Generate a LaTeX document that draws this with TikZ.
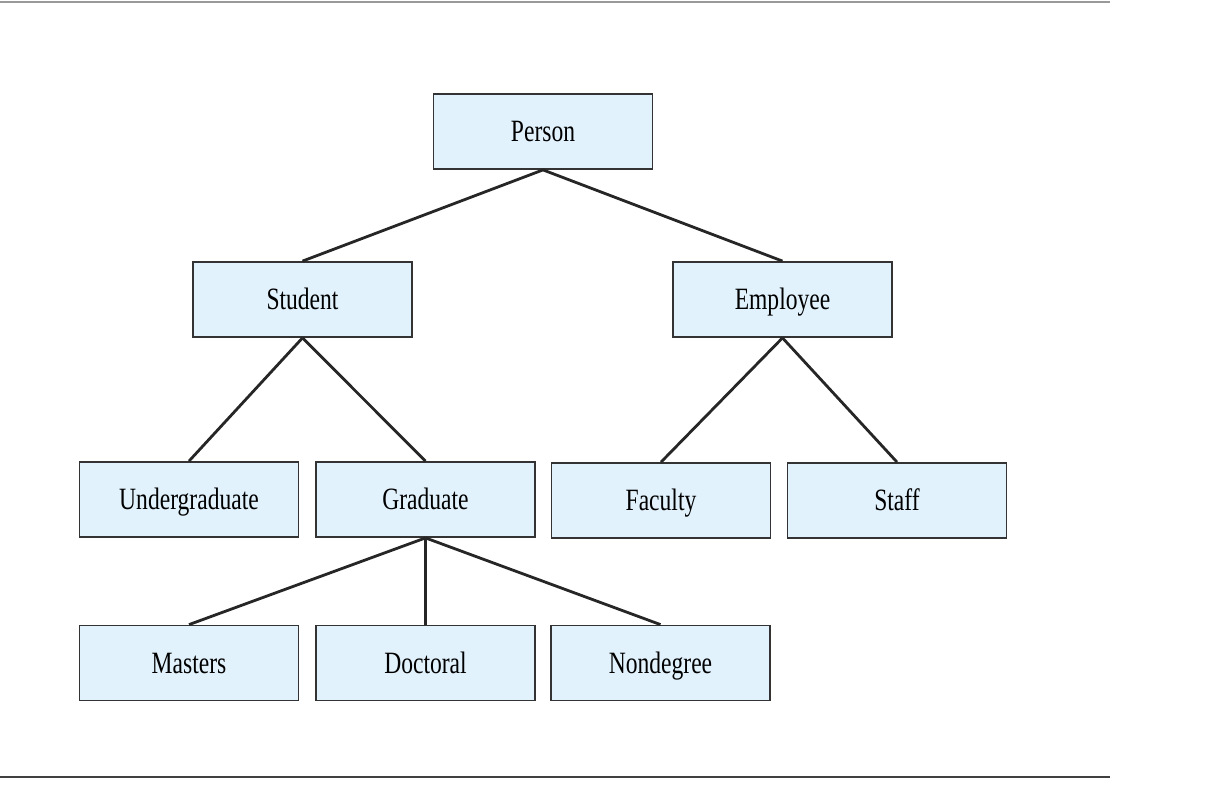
\documentclass[tikz,border=0pt]{standalone}
\usepackage{fontspec}
\setmainfont{Liberation Serif}[FakeStretch=0.76]
\definecolor{boxfill}{HTML}{E1F2FC}
\definecolor{boxline}{HTML}{333333}
\begin{document}
\begin{tikzpicture}[x=1pt,y=-1pt,
  cls/.style={draw=boxline,line width=1.8pt,fill=boxfill,minimum width=219pt,minimum height=75pt,inner sep=0pt,text height=24pt,text depth=4pt,font=\fontsize{31}{31}\selectfont},
  link/.style={draw=black!85,line width=2.8pt}]
\useasboundingbox (0,0) rectangle (1209,787);
\coordinate (tl) at (0,2);
\coordinate (tr) at (1110,2);
\coordinate (bl) at (0,777);
\coordinate (br) at (1110,777);
\draw[line width=2pt,black!40] (tl) -- (tr);
\draw[line width=2.5pt,black!75] (bl) -- (br);
\node[cls] (person) at (543,131.5) {Person};
\node[cls] (student) at (302.5,299.5) {Student};
\node[cls] (employee) at (782.5,299.5) {Employee};
\node[cls] (under) at (189,499.5) {Undergraduate};
\node[cls] (grad) at (425.5,499.5) {Graduate};
\node[cls] (faculty) at (661,500.5) {Faculty};
\node[cls] (staff) at (897,500.5) {Staff};
\node[cls] (masters) at (189,663) {Masters};
\node[cls] (doctoral) at (425.5,663) {Doctoral};
\node[cls] (nondeg) at (660.5,663) {Nondegree};
\draw[link] (person.south) -- (student.north);
\draw[link] (person.south) -- (employee.north);
\draw[link] (student.south) -- (under.north);
\draw[link] (student.south) -- (grad.north);
\draw[link] (employee.south) -- (faculty.north);
\draw[link] (employee.south) -- (staff.north);
\draw[link] (grad.south) -- (masters.north);
\draw[link] (grad.south) -- (doctoral.north);
\draw[link] (grad.south) -- (nondeg.north);
\end{tikzpicture}
\end{document}
